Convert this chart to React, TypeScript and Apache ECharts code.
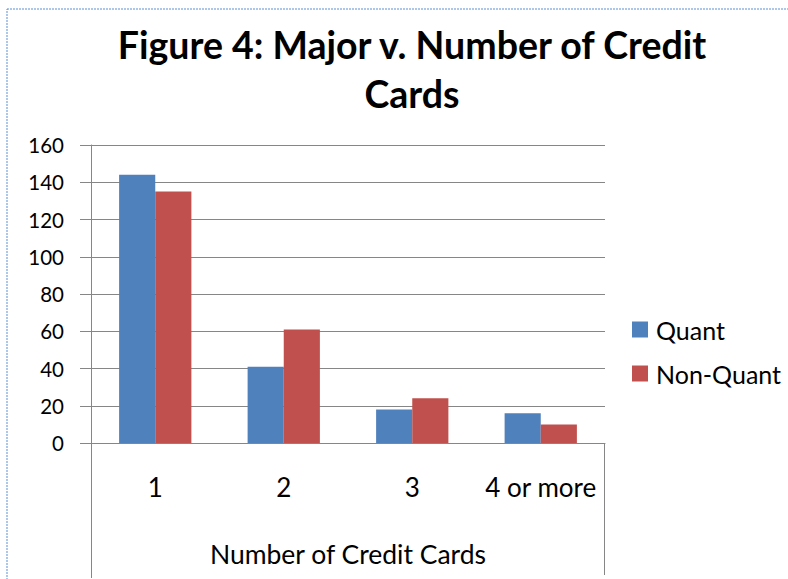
import React, { useEffect, useRef } from "react";
import * as echarts from "echarts";

const categories = ["1", "2", "3", "4 or more"];
const quant = [144, 41, 18, 16];
const nonQuant = [135, 61, 24, 10];
const yTicks = { min: 0, max: 160, interval: 20 };

export default function App() {
  const ref = useRef<HTMLDivElement>(null);
  useEffect(() => {
    const chart = echarts.init(ref.current!, null, { renderer: "svg" });
    const font = "Lato, 'Open Sans', sans-serif";
    chart.setOption({
      animation: false,
      backgroundColor: "#ffffff",
      textStyle: { fontFamily: font },
      title: {
        text: "Figure 4: Major v. Number of Credit\nCards",
        left: 407,
        textAlign: "center",
        top: 15,
        textStyle: { fontSize: 37.5, fontWeight: "bold", color: "#000", lineHeight: 49, fontFamily: font },
      },
      legend: {
        orient: "vertical",
        left: 627,
        top: 312,
        itemWidth: 16,
        itemHeight: 16,
        itemGap: 19,
        icon: "rect",
        textStyle: { fontSize: 25, color: "#000", fontFamily: font, padding: [0, 0, 0, 3] },
        data: ["Quant", "Non-Quant"],
      },
      grid: { left: 91, top: 145, width: 514, height: 298, containLabel: false },
      xAxis: {
        type: "category",
        data: categories,
        axisLine: { lineStyle: { color: "#868686", width: 1 } },
        axisTick: { length: 67, lineStyle: { color: "#868686" } },
        axisLabel: { interval: 0, hideOverlap: false, fontSize: 26, color: "#000", margin: 31, fontFamily: font },
        name: "Number of Credit Cards",
        nameLocation: "middle",
        nameGap: 97,
        nameTextStyle: { fontSize: 26.5, color: "#000", fontFamily: font },
      },
      yAxis: {
        type: "value",
        min: yTicks.min,
        max: yTicks.max,
        interval: yTicks.interval,
        axisLine: { show: true, lineStyle: { color: "#868686" } },
        axisTick: { show: true, length: 11, lineStyle: { color: "#868686" } },
        axisLabel: { fontSize: 20.5, color: "#000", margin: 27, fontFamily: font },
        splitLine: { lineStyle: { color: "#868686" } },
      },
      series: [
        {
          name: "Quant",
          type: "bar",
          data: quant,
          itemStyle: { color: "#4F81BD" },
          barGap: "0%",
          barCategoryGap: "43.75%",
        },
        {
          name: "Non-Quant",
          type: "bar",
          data: nonQuant,
          itemStyle: { color: "#C0504D" },
        },
      ],
      graphic: [
        {
          type: "rect",
          shape: { x: 7, y: 9, width: 800, height: 600 },
          style: { fill: "none", stroke: "#5B8FD6", lineWidth: 1, lineDash: [2, 1] },
          silent: true,
        },
        {
          type: "line",
          shape: { x1: 91.5, y1: 443, x2: 91.5, y2: 578 },
          style: { stroke: "#868686", lineWidth: 1 },
        },
        {
          type: "line",
          shape: { x1: 604.5, y1: 443, x2: 604.5, y2: 575 },
          style: { stroke: "#868686", lineWidth: 1 },
        },
      ],
    });
    return () => chart.dispose();
  }, []);
  return (
    <div
      ref={ref}
      style={{ position: "fixed", left: 0, top: 0, width: 788, height: 579 }}
    />
  );
}
